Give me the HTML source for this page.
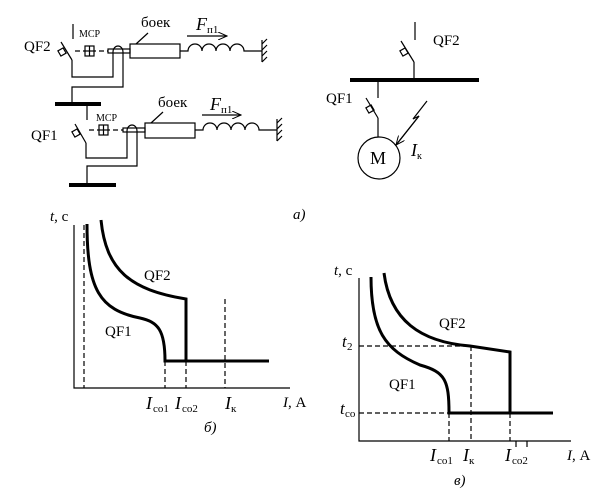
<!DOCTYPE html>
<html><head><meta charset="utf-8"><style>
html,body{margin:0;padding:0;background:#fff}
svg{display:block}
text{font-family:"Liberation Serif",serif;fill:#000}
</style></head><body>
<svg width="601" height="493" viewBox="0 0 601 493" xmlns="http://www.w3.org/2000/svg">
<defs><marker id="ar" markerWidth="10" markerHeight="8" refX="9" refY="4" orient="auto" markerUnits="userSpaceOnUse"><path d="M0,0 L9,4 L0,8" fill="none" stroke="#000" stroke-width="1"/></marker></defs>
<g fill="none" stroke="#000" stroke-width="1.2">
<!-- QF2 top -->
<line x1="73" y1="24" x2="73" y2="39"/>
<line x1="61" y1="42" x2="72" y2="60"/>
<rect x="59" y="49" width="6" height="6" transform="rotate(-30 62 52)"/>
<polyline points="72,60 72,77 113,77 113,52"/>
<path d="M113,52 A5,6 0 0 1 123,52"/>
<polyline points="123,52 123,87 72,87 72,102"/>
<line x1="75" y1="51" x2="108" y2="51" stroke-dasharray="5,3"/>
<rect x="85" y="46" width="9" height="10" fill="#fff"/><line x1="89.5" y1="46" x2="89.5" y2="56"/><line x1="85" y1="51" x2="94" y2="51"/>
<rect x="108" y="49" width="22" height="4"/>
<rect x="130" y="44" width="50" height="14"/>
<line x1="136" y1="44" x2="148" y2="33"/>
<path d="M180,51 H188 a7,7 0 0 1 14,0 a7,7 0 0 1 14,0 a7,7 0 0 1 14,0 a7,7 0 0 1 14,0 H262"/>
<line x1="262" y1="40" x2="262" y2="62"/>
<path d="M262,44 l5,-5 M262,50 l5,-5 M262,56 l5,-5 M262,62 l5,-5"/>
<line x1="187" y1="36" x2="227" y2="36" marker-end="url(#ar)"/>
<!-- QF1 -->
<line x1="87" y1="104" x2="87" y2="120"/>
<line x1="75" y1="124" x2="86" y2="143"/>
<rect x="73" y="130" width="6" height="6" transform="rotate(-30 76 133)"/>
<polyline points="86,143 86,158 127,158 127,131"/>
<path d="M127,131 A5,6 0 0 1 137,131"/>
<polyline points="137,131 137,166 87,166 87,184"/>
<line x1="89" y1="130" x2="123" y2="130" stroke-dasharray="5,3"/>
<rect x="99" y="125" width="9" height="10" fill="#fff"/><line x1="103.5" y1="125" x2="103.5" y2="135"/><line x1="99" y1="130" x2="108" y2="130"/>
<rect x="123" y="128" width="22" height="4"/>
<rect x="145" y="123" width="50" height="15"/>
<line x1="151" y1="123" x2="163" y2="112"/>
<path d="M195,130 H203 a7,7 0 0 1 14,0 a7,7 0 0 1 14,0 a7,7 0 0 1 14,0 a7,7 0 0 1 14,0 H277"/>
<line x1="277" y1="119" x2="277" y2="141"/>
<path d="M277,123 l5,-5 M277,129 l5,-5 M277,135 l5,-5 M277,141 l5,-5"/>
<line x1="202" y1="115" x2="241" y2="115" marker-end="url(#ar)"/>
<!-- right diagram -->
<line x1="415" y1="22" x2="415" y2="40"/>
<line x1="401" y1="41" x2="414" y2="62"/>
<rect x="401" y="49" width="6" height="6" transform="rotate(-30 404 52)"/>
<line x1="414" y1="62" x2="414" y2="80"/>
<line x1="378" y1="80" x2="378" y2="98"/>
<line x1="366" y1="98" x2="378" y2="118"/>
<rect x="367" y="106" width="6" height="6" transform="rotate(-30 370 109)"/>
<line x1="378" y1="118" x2="378" y2="137"/>
<circle cx="379" cy="158" r="21"/>
<polyline points="427,101 413,119 419,116 396,145" />
<line x1="419" y1="116" x2="396" y2="145" marker-end="url(#ar)"/>
<!-- graph b -->
<polyline points="74,225 74,388 290,388"/>
<line x1="84" y1="225" x2="84" y2="388" stroke-dasharray="5,3"/>
<line x1="165" y1="361" x2="165" y2="388" stroke-dasharray="5,3"/>
<line x1="186" y1="361" x2="186" y2="388" stroke-dasharray="5,3"/>
<line x1="225" y1="299" x2="225" y2="388" stroke-dasharray="5,3"/>
<!-- graph v -->
<polyline points="359,278 359,441 571,441"/>
<line x1="359" y1="346" x2="471" y2="346" stroke-dasharray="5,3"/>
<line x1="359" y1="413" x2="449" y2="413" stroke-dasharray="5,3"/>
<line x1="449" y1="413" x2="449" y2="441" stroke-dasharray="5,3"/>
<line x1="471" y1="346" x2="471" y2="441" stroke-dasharray="5,3"/>
<line x1="510" y1="413" x2="510" y2="441" stroke-dasharray="5,3"/>
<line x1="516" y1="441" x2="516" y2="447"/>
<line x1="527" y1="441" x2="527" y2="447"/>
</g>
<g fill="none" stroke="#000" stroke-width="3">
<line x1="55" y1="104" x2="101" y2="104" stroke-width="4"/>
<line x1="69" y1="185" x2="116" y2="185" stroke-width="4"/>
<line x1="350" y1="80" x2="479" y2="80" stroke-width="4"/>
<path d="M87,224 C87,290 100,310 140,318 C158,322 165,330 165,361 H269"/>
<path d="M101,220 C106,270 130,290 186,299 V361"/>
<path d="M371,277 C371,330 385,350 420,365 C445,372 449,380 449,413 H553"/>
<path d="M384,273 C390,320 420,342 470,346 L510,352 V413"/>
</g>
<g font-size="15">
<text x="24" y="51">QF2</text>
<text x="31" y="140">QF1</text>
<text x="79" y="37" font-size="10">МСР</text>
<text x="96" y="121" font-size="10">МСР</text>
<text x="141" y="27">боек</text>
<text x="158" y="107">боек</text>
<text x="196" y="30" font-style="italic" font-size="18">F</text><text x="207" y="33" font-size="11">п1</text>
<text x="210" y="110" font-style="italic" font-size="18">F</text><text x="221" y="113" font-size="11">п1</text>
<text x="433" y="45">QF2</text>
<text x="326" y="103">QF1</text>
<text x="370" y="164" font-size="18">M</text>
<text x="411" y="156" font-style="italic" font-size="18">I</text><text x="417" y="159" font-size="10">к</text>
<text x="293" y="219" font-style="italic">а)</text>
<text x="50" y="221"><tspan font-style="italic">t</tspan>, с</text>
<text x="144" y="280">QF2</text>
<text x="105" y="336">QF1</text>
<text x="146" y="409" font-style="italic" font-size="18">I</text><text x="153" y="412" font-size="11">со1</text>
<text x="175" y="409" font-style="italic" font-size="18">I</text><text x="182" y="412" font-size="11">со2</text>
<text x="225" y="409" font-style="italic" font-size="18">I</text><text x="231" y="412" font-size="11">к</text>
<text x="283" y="407"><tspan font-style="italic">I</tspan>, А</text>
<text x="204" y="432" font-style="italic">б)</text>
<text x="334" y="275"><tspan font-style="italic">t</tspan>, с</text>
<text x="439" y="328">QF2</text>
<text x="389" y="389">QF1</text>
<text x="342" y="347" font-style="italic" font-size="17">t</text><text x="347" y="350" font-size="11">2</text>
<text x="340" y="414" font-style="italic" font-size="17">t</text><text x="345" y="417" font-size="11">со</text>
<text x="430" y="461" font-style="italic" font-size="18">I</text><text x="437" y="464" font-size="11">со1</text>
<text x="463" y="461" font-style="italic" font-size="18">I</text><text x="469" y="464" font-size="11">к</text>
<text x="505" y="461" font-style="italic" font-size="18">I</text><text x="512" y="464" font-size="11">со2</text>
<text x="567" y="460"><tspan font-style="italic">I</tspan>, А</text>
<text x="454" y="485" font-style="italic">в)</text>
</g>
</svg>
</body></html>
